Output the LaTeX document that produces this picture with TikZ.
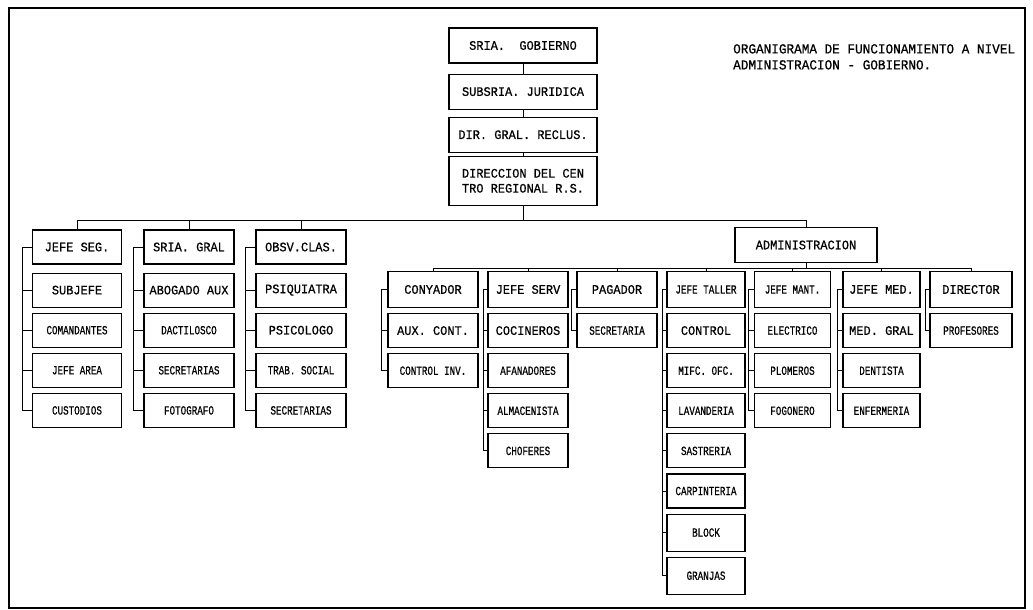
\documentclass[tikz,border=0pt]{standalone}
\usepackage{fontspec}
\setmonofont[FakeBold=0.6, FakeStretch=0.92]{Liberation Mono}
\newfontfamily\condmono[FakeBold=0.6, FakeStretch=0.74]{Liberation Mono}
\usetikzlibrary{positioning}

\tikzset{
  box/.style={draw, line width=1.1pt, inner sep=1pt, minimum height=34pt, font=\ttfamily\fontsize{13}{15}\selectfont},
  head/.style={minimum height=36pt},
  cond/.style={font=\condmono\fontsize{12.5}{14}\selectfont},
  conn/.style={line width=0.9pt},
}

\begin{document}
\begin{tikzpicture}[x=1pt, y=-1pt, node distance=5pt]
\useasboundingbox (0,0) rectangle (1033,610);
\draw[line width=1.2pt] (9,8) rectangle (1025,608);

% titulo
\node[anchor=north west, align=left, inner sep=0, font=\ttfamily\fontsize{13.8}{16}\selectfont] (titulo) at (733,44)
  {ORGANIGRAMA DE FUNCIONAMIENTO A NIVEL\\ADMINISTRACION - GOBIERNO.};

% cadena superior
\node[box, minimum width=148pt, minimum height=35pt] (gob) at (523,45.5) {SRIA.\ \ GOBIERNO};
\node[box, minimum width=148pt, minimum height=35pt, below=10pt of gob] (subj) {SUBSRIA. JURIDICA};
\node[box, minimum width=148pt, minimum height=35pt, below=7pt of subj] (dgr) {DIR. GRAL. RECLUS.};
\node[box, minimum width=148pt, minimum height=49pt, below=3pt of dgr, align=left] (dcr) {DIRECCION DEL CEN\\TRO REGIONAL R.S.};
\draw[conn] (gob) -- (subj);
\draw[conn] (subj) -- (dgr);
\draw[conn] (dgr) -- (dcr);

% jefe seg.
\node[box, minimum width=89pt] (jseg) at (77,247) {JEFE SEG.};
\node[box, minimum width=89pt, below=8pt of jseg] (sjefe) {SUBJEFE};
\node[box, cond, minimum width=89pt, below=of sjefe] (coman) {COMANDANTES};
\node[box, cond, minimum width=89pt, below=of coman] (jarea) {JEFE AREA};
\node[box, cond, minimum width=89pt, below=of jarea] (cust) {CUSTODIOS};

% sria. gral
\node[box, minimum width=90pt] (sgral) at (189,247) {SRIA. GRAL};
\node[box, minimum width=90pt, below=8pt of sgral] (abog) {ABOGADO AUX};
\node[box, cond, minimum width=90pt, below=of abog] (dact) {DACTILOSCO};
\node[box, cond, minimum width=90pt, below=of dact] (secra) {SECRETARIAS};
\node[box, cond, minimum width=90pt, below=of secra] (foto) {FOTOGRAFO};

% obsv.clas.
\node[box, minimum width=90pt] (obsv) at (301,247) {OBSV.CLAS.};
\node[box, minimum width=90pt, below=8pt of obsv] (psiq) {PSIQUIATRA};
\node[box, minimum width=90pt, below=of psiq] (psic) {PSICOLOGO};
\node[box, cond, minimum width=90pt, below=of psic] (trab) {TRAB. SOCIAL};
\node[box, cond, minimum width=90pt, below=of trab] (secrb) {SECRETARIAS};

% administracion
\node[box, minimum width=142pt, minimum height=35pt] (adm) at (806,245) {ADMINISTRACION};

\node[box, head, minimum width=90pt] (cont) at (433,289.5) {CONYADOR};
\node[box, minimum width=90pt, below=of cont] (auxc) {AUX. CONT.};
\node[box, cond, minimum width=90pt, below=of auxc] (cinv) {CONTROL INV.};

\node[box, head, minimum width=80pt] (jserv) at (528,289.5) {JEFE SERV};
\node[box, minimum width=80pt, below=of jserv] (coci) {COCINEROS};
\node[box, cond, minimum width=80pt, below=of coci] (afan) {AFANADORES};
\node[box, cond, minimum width=80pt, below=of afan] (alma) {ALMACENISTA};
\node[box, cond, minimum width=80pt, below=of alma] (chof) {CHOFERES};

\node[box, head, minimum width=80pt] (pag) at (617,289.5) {PAGADOR};
\node[box, cond, minimum width=80pt, below=of pag] (secrc) {SECRETARIA};

\node[box, head, cond, minimum width=78pt] (jtall) at (706,289.5) {JEFE TALLER};
\node[box, minimum width=78pt, below=of jtall] (ctrl) {CONTROL};
\node[box, cond, minimum width=78pt, below=of ctrl] (mifc) {MIFC. OFC.};
\node[box, cond, minimum width=78pt, below=of mifc] (lava) {LAVANDERIA};
\node[box, cond, minimum width=78pt, below=of lava] (sast) {SASTRERIA};
\node[box, cond, minimum width=78pt, below=of sast] (carp) {CARPINTERIA};
\node[box, cond, minimum width=78pt, minimum height=37pt, below=of carp] (block) {BLOCK};
\node[box, cond, minimum width=78pt, minimum height=37pt, below=of block] (granj) {GRANJAS};

\node[box, head, cond, minimum width=76pt] (jmant) at (792.5,289.5) {JEFE MANT.};
\node[box, cond, minimum width=76pt, below=of jmant] (elec) {ELECTRICO};
\node[box, cond, minimum width=76pt, below=of elec] (plom) {PLOMEROS};
\node[box, cond, minimum width=76pt, below=of plom] (fogo) {FOGONERO};

\node[box, head, minimum width=77pt] (jmed) at (881.5,289.5) {JEFE MED.};
\node[box, minimum width=77pt, below=of jmed] (medg) {MED. GRAL};
\node[box, cond, minimum width=77pt, below=of medg] (dent) {DENTISTA};
\node[box, cond, minimum width=77pt, below=of dent] (enfe) {ENFERMERIA};

\node[box, head, minimum width=82pt] (dir) at (971,289.5) {DIRECTOR};
\node[box, cond, minimum width=82pt, below=of dir] (prof) {PROFESORES};

% lineas principales
\coordinate (bus) at (0,220);
\draw[conn] (dcr.south) -- (dcr.south |- bus);
\draw[conn] (jseg.north |- bus) -- (adm.north |- bus);
\foreach \n in {jseg,sgral,obsv,adm}
  \draw[conn] (\n.north) -- (\n.north |- bus);

\coordinate (sbus) at (0,268);
\draw[conn] (adm.south) -- (adm.south |- sbus);
\draw[conn] (cont.north |- sbus) -- (dir.north |- sbus);
\foreach \n in {cont,jserv,pag,jtall,jmant,jmed,dir}
  \draw[conn] (\n.north) -- (\n.north |- sbus);

% corchetes
\draw[conn] (jseg.west) -- ++(-10,0) coordinate (b1) |- (cust.west);
\foreach \n in {sjefe,coman,jarea} \draw[conn] (\n.west) -- (\n.west -| b1);
\draw[conn] (sgral.west) -- ++(-10,0) coordinate (b2) |- (foto.west);
\foreach \n in {abog,dact,secra} \draw[conn] (\n.west) -- (\n.west -| b2);
\draw[conn] (obsv.west) -- ++(-10,0) coordinate (b3) |- (secrb.west);
\foreach \n in {psiq,psic,trab} \draw[conn] (\n.west) -- (\n.west -| b3);

\draw[conn] (cont.west) -- ++(-6,0) coordinate (b4) |- (cinv.west);
\draw[conn] (auxc.west) -- (auxc.west -| b4);
\draw[conn] (jserv.west) -- ++(-4,0) coordinate (b5) |- (chof.west);
\foreach \n in {coci,afan,alma} \draw[conn] (\n.west) -- (\n.west -| b5);
\draw[conn] (pag.west) -- ++(-5,0) |- (secrc.west);
\draw[conn] (jtall.west) -- ++(-4,0) coordinate (b6) |- (granj.west);
\foreach \n in {ctrl,mifc,lava,sast,carp,block} \draw[conn] (\n.west) -- (\n.west -| b6);
\draw[conn] (jmant.west) -- ++(-6,0) coordinate (b7) |- (fogo.west);
\foreach \n in {elec,plom} \draw[conn] (\n.west) -- (\n.west -| b7);
\draw[conn] (jmed.west) -- ++(-5,0) coordinate (b8) |- (enfe.west);
\foreach \n in {medg,dent} \draw[conn] (\n.west) -- (\n.west -| b8);
\draw[conn] (dir.west) -- ++(-4,0) |- (prof.west);
\end{tikzpicture}
\end{document}
